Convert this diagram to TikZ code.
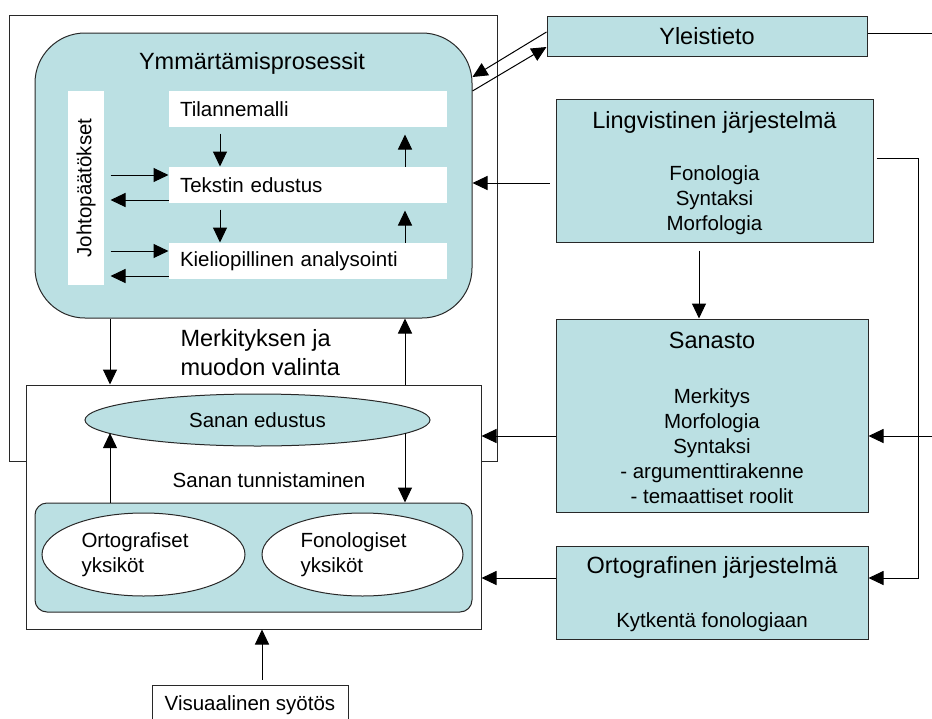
\documentclass[tikz,border=0pt]{standalone}
\usepackage{fontspec}
\setmainfont{Liberation Sans}
\usetikzlibrary{arrows.meta,shapes.geometric,calc}
\definecolor{boxteal}{RGB}{187,224,227}
\definecolor{edge}{RGB}{40,40,40}
\newcommand\lblbig{\fontsize{23.5}{29}\selectfont}
\newcommand\lblsmall{\fontsize{20.5}{25}\selectfont}
\begin{document}
\begin{tikzpicture}[x=1pt,y=-1pt,line width=1pt,
  arr/.style={-{Triangle[length=15pt,width=14pt]}},
  plainbox/.style={draw=edge,inner sep=0pt},
  level/.style={fill=white,minimum width=278pt,minimum height=36pt,
    text width=256pt,inner xsep=11pt,inner ysep=0pt,align=left,font=\lblsmall},
  unit/.style={draw=edge,fill=white,ellipse,inner sep=0pt,minimum height=83pt},
  unittext/.style={anchor=west,align=left,font=\lblsmall,inner sep=0pt}]
\useasboundingbox (0,0) rectangle (932,718);

% frames of the reading model
\node[plainbox,minimum width=488pt,minimum height=446pt] (outer) at (253,238) {};
\node[plainbox,fill=white,minimum width=455pt,minimum height=244pt] (wordbox) at (253.5,507) {};

% comprehension processes
\node[plainbox,fill=boxteal,rounded corners=50pt,minimum width=437pt,minimum height=285pt] (comp) at (253.5,175.5) {};
\node[font=\lblbig] (compT) at (252,63) {Ymmärtämisprosessit};
\node[fill=white,rotate=90,minimum width=194pt,minimum height=36pt,inner sep=0pt,font=\lblsmall] (infer) at (86,188) {Johtopäätökset};
\node[level] (sit) at (308,109) {Tilannemalli};
\node[level] (txtrep) at (308,185) {Tekstin edustus};
\node[level] (gram) at (308,261) {Kieliopillinen analysointi};

\coordinate (xa) at (220,0);
\coordinate (xb) at (405,0);
\coordinate (xc) at (110,0);
\draw[arr,shorten <=6pt] (sit.south -| xa) -- (txtrep.north -| xa);
\draw[arr,shorten <=6pt] (txtrep.south -| xa) -- (gram.north -| xa);
\draw[arr,shorten >=7pt] (txtrep.north -| xb) -- (sit.south -| xb);
\draw[arr,shorten >=7pt] (gram.north -| xb) -- (txtrep.south -| xb);

\coordinate (t1) at ([yshift=10pt]txtrep.west);
\coordinate (t2) at ([yshift=-15pt]txtrep.west);
\coordinate (k1) at ([yshift=10pt]gram.west);
\coordinate (k2) at ([yshift=-15pt]gram.west);
\draw[arr,shorten <=6pt] (t1 -| infer.south) -- (t1);
\draw[arr,shorten >=6pt] (t2) -- (t2 -| infer.south);
\draw[arr,shorten <=6pt] (k1 -| infer.south) -- (k1);
\draw[arr,shorten >=6pt] (k2) -- (k2 -| infer.south);

% selection between the two levels
\draw[arr] (comp.south -| xc) -- (wordbox.north -| xc);
\draw[arr] (wordbox.north -| xb) -- (comp.south -| xb);
\node[anchor=west,align=left,font=\lblbig,inner sep=0pt] (sel) at (180,353) {Merkityksen ja\\muodon valinta};

% word recognition
\node[draw=edge,fill=boxteal,ellipse,minimum width=345pt,minimum height=52pt,inner sep=0pt,font=\lblsmall] (wordrep) at (257.5,420) {Sanan edustus};
\node[font=\lblsmall] (recog) at (269,480) {Sanan tunnistaminen};
\node[plainbox,fill=boxteal,rounded corners=12pt,minimum width=437pt,minimum height=109pt] (units) at (253.5,557.5) {};
\node[unit,minimum width=203pt] (orthu) at (143.5,554.5) {};
\node[unit,minimum width=201pt] (phonu) at (362.5,554.5) {};
\node[unittext] (orthuT) at (81,555) {Ortografiset\\yksiköt};
\node[unittext] (phonuT) at (300,555) {Fonologiset\\yksiköt};
\draw[arr] (units.north -| xc) -- (xc |- wordrep.185);
\draw[arr] (xb |- wordrep.355) -- (units.north -| xb);

% visual input
\node[plainbox,fill=white,minimum width=196pt,minimum height=40pt,font=\lblsmall] (visual) at (250,705) {Visuaalinen syötös};
\coordinate (xv) at (262,0);
\draw[arr,shorten <=5pt] (visual.north -| xv) -- (wordbox.south -| xv);

% knowledge sources
\node[plainbox,fill=boxteal,minimum width=320pt,minimum height=40pt,font=\lblbig] (general) at (707,36) {Yleistieto};
\node[plainbox,fill=boxteal,minimum width=317pt,minimum height=143pt] (ling) at (714.5,170.5) {};
\node[font=\lblbig] (lingT) at (714.5,122) {Lingvistinen järjestelmä};
\node[font=\lblsmall,align=center] (lingL) at (714.5,200) {Fonologia\\Syntaksi\\Morfologia};
\node[plainbox,fill=boxteal,minimum width=312pt,minimum height=193pt] (lex) at (712,415.5) {};
\node[font=\lblbig] (lexT) at (712,340) {Sanasto};
\node[font=\lblsmall,align=center] (lexL) at (712,446) {Merkitys\\Morfologia\\Syntaksi\\- argumenttirakenne\\- temaattiset roolit};
\node[plainbox,fill=boxteal,minimum width=312pt,minimum height=93pt] (orth) at (712,592.5) {};
\node[font=\lblbig] (orthT) at (712,567) {Ortografinen järjestelmä};
\node[font=\lblsmall] (orthL) at (712,622) {Kytkentä fonologiaan};

% connections from the knowledge sources
\coordinate (edgeA) at (932,33);
\draw ([yshift=3pt]general.east) -- (edgeA);
\coordinate (g1) at ([yshift=4pt]general.west);
\coordinate (g2) at ([yshift=-11pt]general.west);
\coordinate (c1) at ([yshift=98.5pt]comp.east);
\coordinate (c2) at ([yshift=84.5pt]comp.east);
\draw[arr] (g1) -- (c1);
\draw[arr] (c2) -- (g2);

\coordinate (l1) at ([yshift=-12.5pt]ling.west);
\draw[arr,shorten <=6pt] (l1) -- (l1 -| comp.east);
\coordinate (xd) at (699,0);
\draw[arr,shorten <=8pt] (ling.south -| xd) -- (lex.north -| xd);

\coordinate (l2) at ([yshift=12.5pt]ling.east);
\coordinate (bus) at (918,0);
\coordinate (o1) at ([yshift=14.5pt]orth.east);
\draw[arr,shorten <=3pt] (l2) -- (l2 -| bus) -- (bus |- o1) -- (o1);

\coordinate (edgeB) at (932,436);
\draw[arr] (edgeB) -- (edgeB -| lex.east);
\coordinate (s1) at ([yshift=-20.5pt]lex.west);
\draw[arr] (s1) -- (s1 -| wordbox.east);
\coordinate (o2) at ([yshift=14.5pt]orth.west);
\draw[arr] (o2) -- (o2 -| wordbox.east);
\end{tikzpicture}
\end{document}
